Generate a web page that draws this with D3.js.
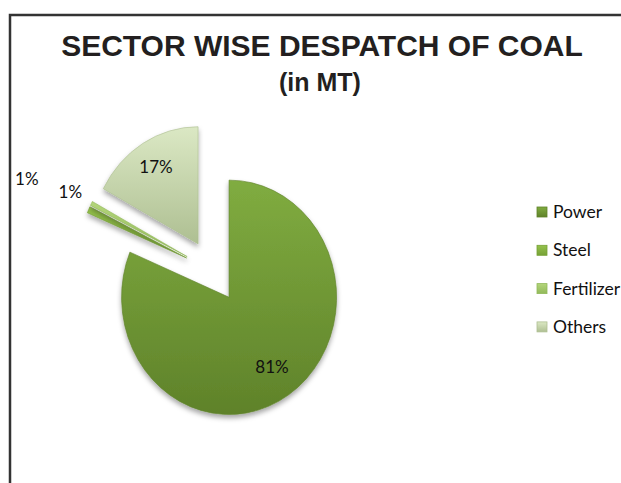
<!DOCTYPE html>
<html>

<head>
    <script src="https://d3js.org/d3.v7.min.js"></script>
    <style>
        body {
            margin: 0;
            background: #fff;
        }

        .title {
            font-family: "Liberation Sans", Arial, sans-serif;
            font-weight: bold;
            fill: #231f20;
        }

        .pct, .legend-text {
            font-family: Lato, "Open Sans", sans-serif;
            fill: #111;
        }
    </style>
</head>

<body>
    <div id="chart"></div>
    <script>
        // sector wise share of coal despatch (%)
        var sectors = ["Power", "Steel", "Fertilizer", "Others"];
        var shares = [81.3, 0.9, 0.6, 17.2];
        var sliceTop = ["#80ac40", "#95c24c", "#b3d57a", "#dbe8c4"];
        var sliceBottom = ["#5f822a", "#76a136", "#92b95a", "#aebf92"];

        var width = 621, height = 483;
        var cx = 213, cy = 271, r = 107.5, squash = 1.09, explode = 29;
        // how far out each label sits, as multiple of r past the explode gap
        var labelRadius = [0.72, 1.63, 1.22, 0.76];

        var svg = d3.select("#chart")
            .append("svg")
            .attr("width", width)
            .attr("height", height);

        var defs = svg.append("defs");

        sectors.forEach(function(s, i) {
            var g = defs.append("linearGradient")
                .attr("id", "grad" + i)
                .attr("x1", 0).attr("y1", 0)
                .attr("x2", 0).attr("y2", 1);
            g.append("stop").attr("offset", "0%").attr("stop-color", sliceTop[i]);
            g.append("stop").attr("offset", "100%").attr("stop-color", sliceBottom[i]);
        });

        var shadow = defs.append("filter")
            .attr("id", "shadow")
            .attr("x", "-20%").attr("y", "-20%")
            .attr("width", "140%").attr("height", "140%");
        shadow.append("feDropShadow")
            .attr("dx", 0).attr("dy", 3)
            .attr("stdDeviation", 2.5)
            .attr("flood-color", "#000")
            .attr("flood-opacity", 0.35);

        // frame lines (left + top)
        svg.append("path")
            .attr("d", "M10," + height + "V15H" + width)
            .attr("fill", "none")
            .attr("stroke", "#333")
            .attr("stroke-width", 2.5);

        svg.append("text")
            .attr("class", "title")
            .attr("x", 322)
            .attr("y", 56)
            .attr("text-anchor", "middle")
            .style("font-size", "30px")
            .text("SECTOR WISE DESPATCH OF COAL");

        svg.append("text")
            .attr("class", "title")
            .attr("x", 320)
            .attr("y", 91)
            .attr("text-anchor", "middle")
            .style("font-size", "25px")
            .text("(in MT)");

        var pie = d3.pie().sort(null).value(function(d) { return d; });
        var arcs = pie(shares);
        var arc = d3.arc().innerRadius(0).outerRadius(r);

        function dir(d) {
            var a = (d.startAngle + d.endAngle) / 2;
            return [Math.sin(a), -Math.cos(a)];
        }

        var pieG = svg.append("g")
            .attr("transform", "translate(" + cx + "," + cy + ") scale(1," + squash + ")");

        pieG.selectAll("path")
            .data(arcs)
            .enter()
            .append("path")
            .attr("d", arc)
            .attr("transform", function(d) {
                var v = dir(d);
                return "translate(" + v[0] * explode + "," + v[1] * explode + ")";
            })
            .attr("fill", function(d, i) { return "url(#grad" + i + ")"; })
            .attr("stroke", function(d, i) { return sliceBottom[i]; })
            .attr("stroke-width", 0.6)
            .attr("filter", "url(#shadow)");

        svg.selectAll(".pct")
            .data(arcs)
            .enter()
            .append("text")
            .attr("class", "pct")
            .attr("x", function(d, i) {
                return cx + dir(d)[0] * (explode + labelRadius[i] * r);
            })
            .attr("y", function(d, i) {
                return cy + dir(d)[1] * (explode + labelRadius[i] * r) * squash;
            })
            .attr("text-anchor", "middle")
            .attr("dy", "0.35em")
            .style("font-size", "17px")
            .text(function(d) { return Math.round(d.value) + "%"; });

        // legend
        var legend = svg.append("g")
            .attr("transform", "translate(537,212)");

        var item = legend.selectAll("g")
            .data(sectors)
            .enter()
            .append("g")
            .attr("transform", function(d, i) { return "translate(0," + i * 38.3 + ")"; });

        item.append("rect")
            .attr("x", 0)
            .attr("y", -5)
            .attr("width", 10)
            .attr("height", 10)
            .attr("fill", function(d, i) { return "url(#grad" + i + ")"; })
            .attr("stroke", function(d, i) { return sliceBottom[i]; })
            .attr("stroke-width", 0.8);

        item.append("text")
            .attr("class", "legend-text")
            .attr("x", 16)
            .attr("dy", "0.35em")
            .style("font-size", "17.5px")
            .text(function(d) { return d; });
    </script>
</body>

</html>
